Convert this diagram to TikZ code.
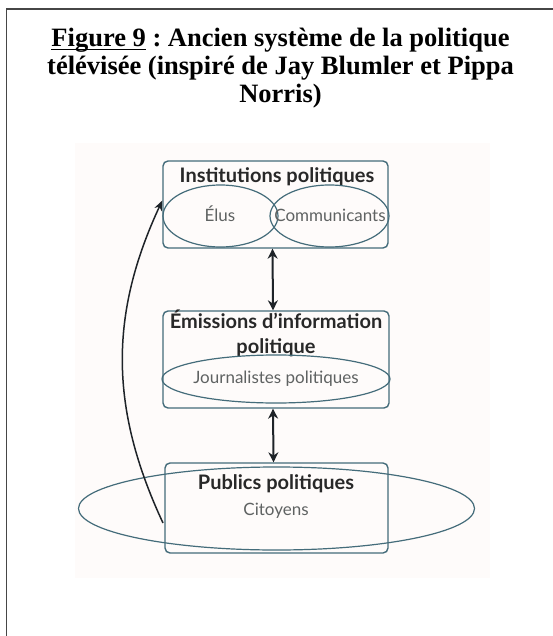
\documentclass[tikz,border=0pt]{standalone}
\usepackage{fontspec}
\setmainfont{Liberation Serif}
\newfontfamily\gillfont{Lato}
\usetikzlibrary{shapes.geometric, arrows.meta, positioning}

\definecolor{frameline}{RGB}{70,70,70}
\definecolor{boxline}{RGB}{68,108,122}
\definecolor{headtext}{RGB}{40,40,40}
\definecolor{subtext}{RGB}{95,98,98}
\definecolor{arrowline}{RGB}{30,35,40}
\definecolor{paper}{RGB}{254,251,250}

% underline drawn close under the baseline
\newsavebox\ulbox
\newcommand\figunder[1]{\sbox\ulbox{#1}\usebox\ulbox\llap{\rule[-3.5pt]{\wd\ulbox}{1.6pt}}}

\frenchspacing

\begin{document}
\begin{tikzpicture}[
    x=1pt, y=1pt, >=Stealth, semithick,
    titletext/.style={font=\bfseries\fontsize{26.5}{28}\selectfont, align=center, inner sep=0pt},
    panel/.style={draw=boxline, line width=1.4pt, rounded corners=5pt, inner sep=0pt},
    bubble/.style={ellipse, draw=boxline, line width=1.2pt, inner sep=0pt},
    heading/.style={font=\gillfont\bfseries\fontsize{20}{25}\selectfont, text=headtext, anchor=base, align=center, inner sep=0pt},
    sublabel/.style={font=\gillfont\fontsize{17}{19}\selectfont, text=subtext, anchor=base, inner sep=0pt},
    link/.style={draw=arrowline, line width=2pt, {Stealth[length=10pt,width=10pt]}-{Stealth[length=10pt,width=10pt]}}
]

    \useasboundingbox (0,0) rectangle (553,-636);

    % Frame and background
    \draw[frameline, line width=1.5pt] (553,-9) -- (6.5,-9) -- (6.5,-636);
    \fill[paper] (75,-143) rectangle (490,-578);

    % Title
    \node[titletext, anchor=north] (title) at (280.5,-28)
        {\figunder{Figure 9} : Ancien système de la politique\\télévisée (inspiré de Jay Blumler et Pippa\\Norris)};

    % Nodes
    % Institutions politiques
    \node[panel, minimum width=225pt, minimum height=87pt] (inst) at (275.5,-204.5) {};
    \node[heading] (insthead) at (277,-183) {Institutions politiques};
    \node[bubble, minimum width=115pt, minimum height=62pt] (elus) at (220.5,-216) {};
    \node[bubble, minimum width=119pt, minimum height=62pt] (comm) at (329.5,-216) {};
    \node[sublabel] (eluslabel) at (220,-222) {Élus};
    \node[sublabel] (commlabel) at (330,-222) {Communicants};

    % Emissions d'information politique
    \node[panel, minimum width=226pt, minimum height=97pt] (emis) at (276,-359.5) {};
    \node[heading] (emishead) at (276,-353) {Émissions d’information\\politique};
    \node[bubble, minimum width=228pt, minimum height=48pt] (journ) at (276,-379) {};
    \node[sublabel] (journlabel) at (276,-383) {Journalistes politiques};

    % Publics politiques
    \node[panel, minimum width=223pt, minimum height=90pt] (pub) at (276.5,-508) {};
    \node[bubble, minimum width=396pt, minimum height=83pt] (cito) at (276.5,-508.5) {};
    \node[heading] (pubhead) at (276,-489) {Publics politiques};
    \node[sublabel] (citolabel) at (276,-515) {Citoyens};

    % Arrows
    \draw[link] ([xshift=-3pt]inst.south) -- ([xshift=-3pt]emis.north);
    \draw[link] ([xshift=-3pt]emis.south) -- ([xshift=-3pt]pub.north);

    \coordinate (loopstart) at (163,-523);
    \draw[arrowline, line width=1.5pt, -{Stealth[length=10pt,width=8pt]}]
        (loopstart) to[out=115, in=-115] ([yshift=4pt]inst.west);

\end{tikzpicture}
\end{document}
